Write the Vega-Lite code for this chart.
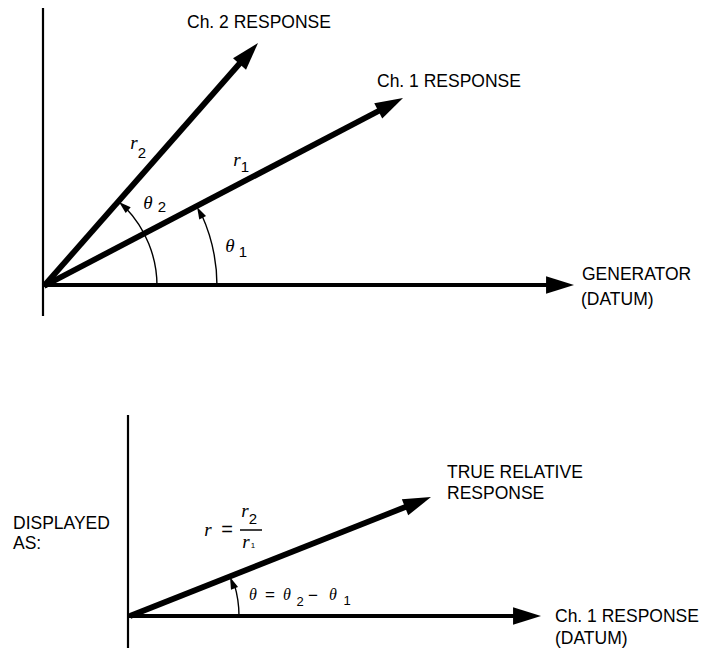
{
  "$schema": "https://vega.github.io/schema/vega-lite/v6.json",
  "width": 702,
  "height": 649,
  "autosize": "none",
  "padding": 0,
  "background": "white",
  "config": {"view": {"stroke": null}},
  "resolve": {"scale": {"size": "independent", "angle": "independent", "strokeWidth": "independent"}},
  "datasets": {
    "lines": [
      {"x": 43, "y": 8, "x2": 43, "y2": 316, "kind": "axis"},
      {"x": 44, "y": 285, "x2": 558, "y2": 285, "kind": "base"},
      {"x": 44, "y": 286, "x2": 248, "y2": 54, "kind": "vector"},
      {"x": 44, "y": 286, "x2": 390, "y2": 105, "kind": "vector"},
      {"x": 128, "y": 415, "x2": 128, "y2": 648, "kind": "axis"},
      {"x": 129, "y": 616, "x2": 526, "y2": 616, "kind": "base"},
      {"x": 130, "y": 616, "x2": 418, "y2": 502, "kind": "vector"},
      {"x": 240, "y": 530, "x2": 262, "y2": 530, "kind": "thin"}
    ],
    "heads": [
      {"x": 574, "y": 285, "dir": 0, "kind": "big"},
      {"x": 258, "y": 43, "dir": 48.6, "kind": "big"},
      {"x": 403, "y": 98, "dir": 27.6, "kind": "big"},
      {"x": 541, "y": 616, "dir": 0, "kind": "big"},
      {"x": 431, "y": 497, "dir": 21.6, "kind": "big"},
      {"x": 119, "y": 202, "dir": 138.6, "kind": "small"},
      {"x": 197, "y": 207, "dir": 117.6, "kind": "small"},
      {"x": 230, "y": 577, "dir": 111.6, "kind": "small"}
    ],
    "arcs": [
      {"x": 44, "y": 286, "r": 113, "a1": 0, "a2": 44},
      {"x": 44, "y": 286, "r": 173, "a1": 0, "a2": 24.5},
      {"x": 130, "y": 616, "r": 109, "a1": 0, "a2": 17}
    ],
    "labels": [
      {"x": 187, "y": 23, "text": "Ch. 2 RESPONSE"},
      {"x": 377, "y": 82, "text": "Ch. 1 RESPONSE"},
      {"x": 582, "y": 275, "text": "GENERATOR"},
      {"x": 581, "y": 300, "text": "(DATUM)"},
      {"x": 447, "y": 473, "text": "TRUE RELATIVE"},
      {"x": 447, "y": 494, "text": "RESPONSE"},
      {"x": 13, "y": 524, "text": "DISPLAYED"},
      {"x": 13, "y": 544, "text": "AS:"},
      {"x": 555, "y": 617, "text": "Ch. 1 RESPONSE"},
      {"x": 555, "y": 639, "text": "(DATUM)"}
    ],
    "math": [
      {"x": 134, "y": 143, "text": "r", "role": "var"},
      {"x": 237, "y": 160, "text": "r", "role": "var"},
      {"x": 148, "y": 203, "text": "θ", "role": "var"},
      {"x": 230, "y": 246, "text": "θ", "role": "var"},
      {"x": 208, "y": 530, "text": "r", "role": "var"},
      {"x": 245, "y": 511, "text": "r", "role": "var"},
      {"x": 246, "y": 542, "text": "r", "role": "var"},
      {"x": 142, "y": 153, "text": "2", "role": "sub"},
      {"x": 245, "y": 167, "text": "1", "role": "sub"},
      {"x": 162, "y": 207, "text": "2", "role": "sub"},
      {"x": 243, "y": 252, "text": "1", "role": "sub"},
      {"x": 253, "y": 519, "text": "2", "role": "sub"},
      {"x": 253, "y": 546, "text": "1", "role": "tiny"},
      {"x": 253, "y": 595, "text": "θ", "role": "varsm"},
      {"x": 287, "y": 595, "text": "θ", "role": "varsm"},
      {"x": 333, "y": 595, "text": "θ", "role": "varsm"},
      {"x": 300, "y": 602, "text": "2", "role": "subsm"},
      {"x": 347, "y": 601, "text": "1", "role": "subsm"},
      {"x": 227, "y": 530, "text": "=", "role": "op"},
      {"x": 270, "y": 595, "text": "=", "role": "opsm"},
      {"x": 313, "y": 596, "text": "−", "role": "opsm"}
    ]
  },
  "layer": [
    {
      "data": {"name": "lines"},
      "mark": {"type": "rule", "color": "black", "strokeCap": "butt"},
      "encoding": {
        "x": {"field": "x", "type": "quantitative", "scale": {"domain": [0, 702], "nice": false, "zero": false}, "axis": null},
        "y": {"field": "y", "type": "quantitative", "scale": {"domain": [0, 649], "reverse": true, "nice": false, "zero": false}, "axis": null},
        "x2": {"field": "x2"},
        "y2": {"field": "y2"},
        "strokeWidth": {"field": "kind", "type": "nominal", "scale": {"type": "ordinal", "domain": ["axis", "vector", "base", "thin"], "range": [2.2, 5.8, 4.2, 1.5]}, "legend": null}
      }
    },
    {
      "data": {"name": "arcs"},
      "mark": {"type": "arc", "filled": false, "stroke": "black", "strokeWidth": 1.4},
      "encoding": {
        "x": {"field": "x", "type": "quantitative"},
        "y": {"field": "y", "type": "quantitative"},
        "theta": {"field": "a1", "type": "quantitative", "scale": {"domain": [0, 90], "range": [1.5707963, 0]}, "stack": null},
        "theta2": {"field": "a2"},
        "radius": {"field": "r", "type": "quantitative", "scale": null},
        "radius2": {"field": "r"}
      }
    },
    {
      "data": {"name": "heads"},
      "mark": {"type": "point", "shape": "M0,0L-2,-0.62L-2,0.62Z", "filled": true, "color": "black", "opacity": 1, "strokeWidth": 0},
      "encoding": {
        "x": {"field": "x", "type": "quantitative"},
        "y": {"field": "y", "type": "quantitative"},
        "angle": {"field": "dir", "type": "quantitative", "scale": {"domain": [0, 360], "range": [360, 0]}},
        "size": {"field": "kind", "type": "nominal", "scale": {"type": "ordinal", "domain": ["big", "small"], "range": [780, 150]}, "legend": null}
      }
    },
    {
      "data": {"name": "labels"},
      "mark": {"type": "text", "font": "Liberation Sans", "fontSize": 17.5, "align": "left", "baseline": "middle", "color": "black"},
      "encoding": {
        "x": {"field": "x", "type": "quantitative"},
        "y": {"field": "y", "type": "quantitative"},
        "text": {"field": "text"}
      }
    },
    {
      "data": {"name": "math"},
      "transform": [{"filter": "datum.role == 'var' || datum.role == 'varsm'"}],
      "mark": {"type": "text", "font": "Liberation Serif", "fontStyle": "italic", "align": "center", "baseline": "middle", "color": "black"},
      "encoding": {
        "x": {"field": "x", "type": "quantitative"},
        "y": {"field": "y", "type": "quantitative"},
        "text": {"field": "text"},
        "size": {"field": "role", "type": "nominal", "scale": {"type": "ordinal", "domain": ["var", "varsm"], "range": [19, 16]}, "legend": null}
      }
    },
    {
      "data": {"name": "math"},
      "transform": [{"filter": "datum.role != 'var' && datum.role != 'varsm'"}],
      "mark": {"type": "text", "font": "Liberation Sans", "align": "center", "baseline": "middle", "color": "black"},
      "encoding": {
        "x": {"field": "x", "type": "quantitative"},
        "y": {"field": "y", "type": "quantitative"},
        "text": {"field": "text"},
        "size": {"field": "role", "type": "nominal", "scale": {"type": "ordinal", "domain": ["sub", "subsm", "op", "opsm", "tiny"], "range": [15, 13, 20, 17, 8]}, "legend": null}
      }
    }
  ]
}
